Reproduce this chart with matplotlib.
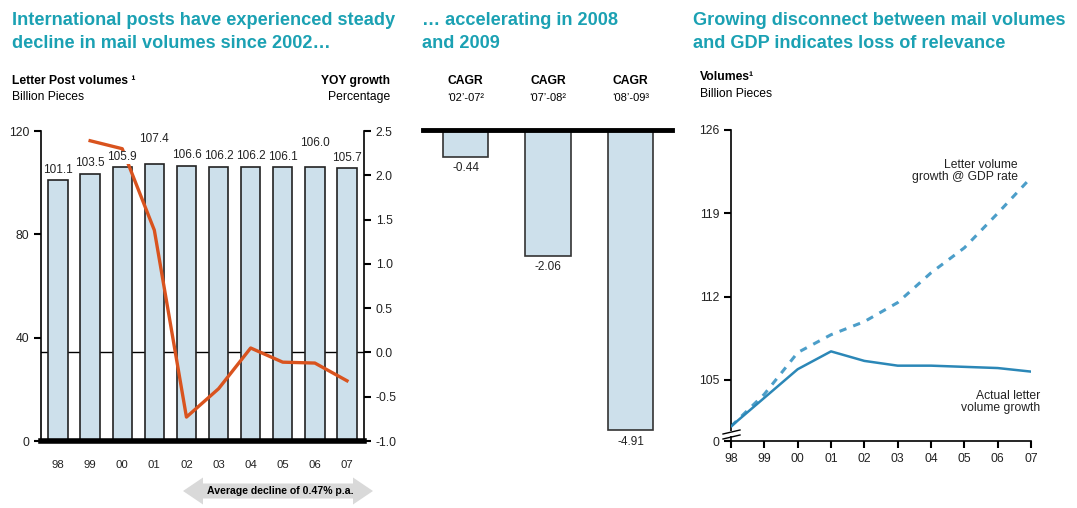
import matplotlib
matplotlib.use("Agg")
import matplotlib.pyplot as plt
from matplotlib.patches import Polygon
from matplotlib.lines import Line2D
import numpy as np

plt.rcParams['font.family'] = ['Liberation Sans', 'DejaVu Sans']

# ---------------- data ----------------
years = ["98", "99", "00", "01", "02", "03", "04", "05", "06", "07"]
volumes = [101.1, 103.5, 105.9, 107.4, 106.6, 106.2, 106.2, 106.1, 106.0, 105.7]
yoy_years = ["99", "00", "01", "02", "03", "04", "05", "06", "07"]
yoy_growth = [2.39, 2.30, 1.38, -0.73, -0.41, 0.05, -0.11, -0.12, -0.32]

cagr_heads = ["CAGR", "CAGR", "CAGR"]
cagr_periods = ["\u201802\u2019-07\u00b2", "\u201807\u2019-08\u00b2", "\u201808\u2019-09\u00b3"]
cagr_values = [-0.44, -2.06, -4.91]

gdp_volumes = [101.1, 103.8, 107.3, 108.8, 109.9, 111.5, 114.0, 116.1, 119.0, 122.0]

W, H = 1077, 508
TEAL = '#1ba1b3'
BAR = '#cde0eb'
ORANGE = '#d9531e'
TXT = '#222222'

fig = plt.figure(figsize=(W / 100, H / 100), dpi=100)


def fx(x):
    return x / W


def fy(y):
    return 1 - y / H


def ax_rect(x0, y0, x1, y1):
    return [fx(x0), fy(y1), fx(x1) - fx(x0), fy(y0) - fy(y1)]


# ---------------- titles ----------------
title_kw = dict(color=TEAL, fontsize=13.1, fontweight='bold', va='top', ha='left', linespacing=1.45)
fig.text(fx(12), fy(12), "International posts have experienced steady\ndecline in mail volumes since 2002\u2026", **title_kw)
fig.text(fx(422), fy(12), "\u2026 accelerating in 2008\nand 2009", **title_kw)
fig.text(fx(693), fy(12), "Growing disconnect between mail volumes\nand GDP indicates loss of relevance", **title_kw)

# ---------------- panel 1 ----------------
ax1b = fig.add_axes(ax_rect(41, 131, 364, 441))
ax1 = ax1b.twinx()  # bars / labels axis on top
ax1.yaxis.tick_left()
ax1b.yaxis.tick_right()
x = np.arange(len(years))

ax1b.set_ylim(-1.0, 2.5)
ax1b.set_xlim(-0.53, 9.53)
gt = np.arange(-1.0, 2.51, 0.5)
ax1b.set_yticks(gt)
ax1b.set_yticklabels([f"{t:.1f}" for t in gt])
ax1b.tick_params(axis='y', direction='out', length=5, width=1.5, labelsize=8.7, labelcolor=TXT)
ax1b.set_xticks(x)
ax1b.set_xticklabels(years)
ax1b.tick_params(axis='x', length=0, pad=14, labelsize=8.2, labelcolor=TXT)
for s in ['top', 'left', 'bottom']:
    ax1b.spines[s].set_visible(False)
ax1b.spines['right'].set_linewidth(1.2)
ax1b.axhline(0, color='black', lw=1, zorder=1)

ax1.set_ylim(0, 120)
ax1.set_yticks([0, 40, 80, 120])
ax1.tick_params(axis='y', direction='out', length=5, width=1.5, labelsize=8.7, labelcolor=TXT,
                left=True, right=False, labelleft=True, labelright=False)
for s in ['top', 'right', 'bottom']:
    ax1.spines[s].set_visible(False)
ax1.spines['left'].set_visible(True)
ax1.spines['left'].set_linewidth(1.2)
ax1.patch.set_visible(False)
ax1.bar(x, volumes, width=0.6, color=BAR, edgecolor='#222222', linewidth=1.2, zorder=2)
ax1.axhline(0, color='black', lw=4, zorder=6, clip_on=False)
yoy_x = [years.index(y) for y in yoy_years]
ax1.plot(yoy_x, yoy_growth, color=ORANGE, lw=2.4, solid_joinstyle='round', zorder=3,
         transform=ax1b.transData)

extra = {3: 10, 8: 10}
for i, v in enumerate(volumes):
    ax1.annotate(f"{v:.1f}", (x[i], v), xytext=(0, 3 + extra.get(i, 0)), textcoords='offset points',
                 ha='center', va='bottom', fontsize=8.5, color=TXT, zorder=7,
                 bbox=dict(boxstyle='square,pad=0.05', fc='white', ec='none'))

fig.text(fx(12), fy(81), "Letter Post volumes \u00b9", fontsize=8.7, fontweight='bold', color='black', va='center')
fig.text(fx(12), fy(97), "Billion Pieces", fontsize=8.7, color='black', va='center')
fig.text(fx(390), fy(81), "YOY growth", fontsize=8.7, fontweight='bold', color='black', va='center', ha='right')
fig.text(fx(390), fy(97), "Percentage", fontsize=8.7, color='black', va='center', ha='right')

# double arrow
ay, bh, hh = 491, 7.5, 13.5
pts = [(183, ay), (203, ay - hh), (203, ay - bh), (353, ay - bh), (353, ay - hh), (373, ay),
       (353, ay + hh), (353, ay + bh), (203, ay + bh), (203, ay + hh)]
fig.patches.append(Polygon([(fx(px), fy(py)) for px, py in pts], closed=True, transform=fig.transFigure,
                           fc='#d9d9d9', ec='none', figure=fig))
fig.text(fx(280), fy(491), "Average decline of 0.47% p.a.", fontsize=7.6, fontweight='bold', ha='center',
         va='center', color='black')

# ---------------- panel 2 ----------------
ax2 = fig.add_axes(ax_rect(423, 130, 672, 441))
x2 = np.arange(len(cagr_values))
ax2.bar(x2, cagr_values, width=0.55, color=BAR, edgecolor='#333333', linewidth=1.2, zorder=2)
ax2.set_xlim(-0.515, 2.5)
ax2.set_ylim(-5.09, 0)
ax2.axis('off')
ax2.axhline(0, color='black', lw=3.5, zorder=5, clip_on=False)
for i, v in enumerate(cagr_values):
    ax2.annotate(f"{v:.2f}", (x2[i], v), xytext=(0, -4), textcoords='offset points', ha='center', va='top',
                 fontsize=8.5, color=TXT)
    ax2.annotate(cagr_heads[i], (x2[i], 1), xycoords=('data', 'axes fraction'), xytext=(0, 35),
                 textcoords='offset points', ha='center', va='center', fontsize=8.7, fontweight='bold',
                 color='black')
    ax2.annotate(cagr_periods[i], (x2[i], 1), xycoords=('data', 'axes fraction'), xytext=(0, 23),
                 textcoords='offset points', ha='center', va='center', fontsize=8, color='black')

# ---------------- panel 3 ----------------
ax3 = fig.add_axes(ax_rect(731, 130, 1031, 441))
x3 = np.arange(len(years))
ax3.plot(x3, gdp_volumes, color='#4c9ec9', lw=2.2, dashes=(2.4, 2.4), zorder=2)
ax3.plot(x3, volumes, color='#2b87b7', lw=1.8, zorder=3)
ax3.set_xlim(0, 9)
ax3.set_ylim(99.87, 126)
ax3.set_xticks(x3)
ax3.set_xticklabels(years)
ax3.set_yticks([99.87, 105, 112, 119, 126])
ax3.set_yticklabels(['0', '105', '112', '119', '126'])
ax3.tick_params(axis='x', direction='out', length=5, width=1.5, labelsize=8.7, labelcolor=TXT, pad=4)
ax3.tick_params(axis='y', direction='out', length=5, width=1.5, labelsize=8.7, labelcolor=TXT)
for s in ['top', 'right']:
    ax3.spines[s].set_visible(False)
for s in ['left', 'bottom']:
    ax3.spines[s].set_linewidth(1.2)
ax3.patch.set_visible(False)
# axis break marks
fig.patches.append(Polygon([(fx(729), fy(431)), (fx(733), fy(431)), (fx(733), fy(436)), (fx(729), fy(436))],
                           closed=True, transform=fig.transFigure, fc='white', ec='none', figure=fig))
for yb in (432, 437):
    fig.lines.append(Line2D([fx(723), fx(740)], [fy(yb + 2), fy(yb - 2)], transform=fig.transFigure,
                            color='black', lw=1, figure=fig))

fig.text(fx(700), fy(77), "Volumes\u00b9", fontsize=8.7, fontweight='bold', color='black', va='center')
fig.text(fx(700), fy(94), "Billion Pieces", fontsize=8.7, color='black', va='center')
ax3.annotate("Letter volume\ngrowth @ GDP rate", (1018, H - 171), xycoords='figure pixels', ha='right',
             va='center', fontsize=8.7, color=TXT, linespacing=1.1)
ax3.annotate("Actual letter\nvolume growth", (1040, H - 402), xycoords='figure pixels', ha='right',
             va='center', fontsize=8.7, color=TXT, linespacing=1.1)

fig.savefig("out.png", dpi=100)
